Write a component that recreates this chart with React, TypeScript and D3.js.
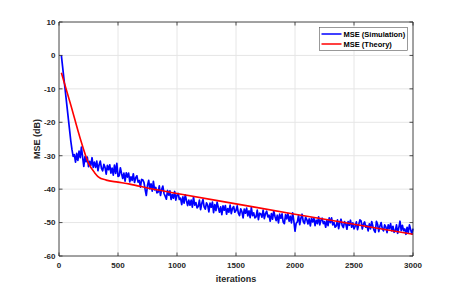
import React from "react";
import * as d3 from "d3";

const W = 456;
const H = 288;
const M = { left: 59, right: 413, top: 22, bottom: 256 };

const xTicks = [0, 500, 1000, 1500, 2000, 2500, 3000];
const yTicks = [-60, -50, -40, -30, -20, -10, 0, 10];

// Simulation MSE, sampled every 10 iterations from iteration 20
const simStart = 20;
const simStep = 10;
const simValues = [
  0, -3.2, -6.4, -9.6, -12.8, -16.0, -19.2, -22.4, -25.6,
  -28.2, -30.2, -29.7, -31.9, -29.3, -31.4, -28.6, -30.6, -27.4, -30.4,
  -33.2, -30.3, -31.8, -30.4, -33.3, -31.7, -32.9, -30.6, -33.5, -31.9,
  -33.5, -31.6, -34.5, -32.7, -31.6, -33.8, -34.5, -32.6, -33.5, -35.5,
  -32.9, -34.2, -32.7, -35.2, -33.7, -35.8, -32.8, -35.3, -32.3, -36.2,
  -36.0, -33.6, -35.3, -36.8, -35.2, -37.6, -35.1, -36.4, -35.2, -37.8,
  -36.3, -37.4, -35.4, -38.0, -36.6, -36.0, -37.9, -37.4, -39.4, -37.1,
  -37.2, -38.0, -40.1, -41.9, -38.9, -37.4, -39.9, -38.4, -40.6, -37.7,
  -40.2, -39.5, -41.1, -40.9, -39.0, -41.9, -40.1, -39.1, -41.3, -42.1,
  -43.0, -40.4, -41.8, -40.5, -43.1, -41.6, -42.7, -40.7, -43.3, -41.8,
  -41.3, -43.1, -42.7, -44.6, -42.3, -44.2, -41.7, -43.4, -44.9, -43.3,
  -44.8, -43.3, -45.4, -42.3, -44.8, -44.0, -45.6, -45.2, -43.3, -46.1,
  -44.3, -43.1, -45.3, -46.0, -44.1, -44.8, -46.8, -44.2, -45.4, -43.9,
  -47.0, -44.6, -46.4, -43.9, -45.5, -46.9, -45.3, -47.6, -45.0, -46.3,
  -44.9, -47.5, -45.8, -46.9, -44.8, -47.3, -45.8, -45.2, -46.9, -46.4,
  -45.0, -47.2, -47.9, -45.9, -46.7, -48.6, -46.0, -47.2, -45.7, -48.0,
  -46.5, -48.5, -45.5, -47.9, -47.1, -48.6, -48.3, -46.3, -49.1, -47.2,
  -47.4, -48.4, -46.3, -48.8, -47.3, -46.6, -48.3, -47.8, -49.6, -47.3,
  -49.0, -46.5, -48.1, -49.4, -47.8, -50.1, -47.5, -48.7, -47.4, -49.9,
  -50.3, -47.6, -48.9, -47.3, -49.6, -48.1, -50.1, -47.1, -49.5, -52.6,
  -50.2, -49.8, -47.8, -50.6, -48.7, -47.5, -49.7, -50.3, -48.4, -49.1,
  -50.4, -48.9, -51.0, -48.7, -49.8, -48.6, -50.9, -49.3, -50.3, -48.3,
  -50.7, -49.3, -48.7, -50.3, -49.7, -51.4, -49.3, -50.9, -48.6, -50.0,
  -48.6, -50.7, -50.0, -51.4, -51.0, -49.2, -51.8, -50.0, -49.0, -50.9,
  -51.5, -49.7, -50.3, -52.0, -49.7, -50.8, -49.3, -51.4, -50.1, -51.9,
  -51.1, -49.8, -52.1, -50.6, -49.2, -49.5, -51.9, -50.5, -49.8, -51.4,
  -50.9, -52.5, -50.4, -51.9, -49.7, -51.1, -52.3, -52.9, -49.6, -50.5,
  -52.7, -51.0, -50.0, -51.9, -52.5, -50.7, -51.3, -53.0, -50.7, -51.8,
  -50.3, -52.5, -51.1, -52.9, -52.5, -50.7, -53.2, -51.5, -49.6, -52.4,
  -50.8, -52.4, -51.9, -53.5, -51.4, -53.0, -50.7, -52.1, -53.4, -51.8,
];

// Theory MSE
const theoryIter = [20, 100, 178, 250, 300, 333, 400, 500, 600, 771, 1000, 1500, 2000, 2500, 3000];
const theoryValues = [-5.2, -14.8, -24.6, -32.2, -35.0, -36.3, -37.3, -37.9, -38.5, -39.8, -41.3, -44.4, -47.5, -50.5, -53.5];

const seriesNames = ["MSE (Simulation)", "MSE (Theory)"];
const seriesColors = ["#0000ff", "#ff0000"];

const FONT = "'Liberation Sans', Arial, Helvetica, sans-serif";

export default function App() {
  const x = d3.scaleLinear().domain([0, 3000]).range([M.left, M.right]);
  const y = d3.scaleLinear().domain([-60, 10]).range([M.bottom, M.top]);

  const simData: [number, number][] = simValues.map((v, i) => [simStart + i * simStep, v]);
  const thData: [number, number][] = theoryValues.map((v, i) => [theoryIter[i], v]);

  const line = d3
    .line<[number, number]>()
    .x((d) => x(d[0]))
    .y((d) => y(d[1]));
  const smooth = d3
    .line<[number, number]>()
    .x((d) => x(d[0]))
    .y((d) => y(d[1]))
    .curve(d3.curveMonotoneX);

  const axisColor = "#262626";
  const gridColor = "#e6e6e6";
  const tickLen = 3.5;

  const lx = 319.5;
  const ly = 27.5;
  const lw = 88;
  const lh = 23;

  return (
    <svg width={W} height={H} style={{ position: "absolute", left: 0, top: 0, background: "#fff" }}>
      <rect x={0} y={0} width={W} height={H} fill="#fff" />
      {xTicks.map((t) => (
        <line key={"gx" + t} x1={x(t)} x2={x(t)} y1={M.top} y2={M.bottom} stroke={gridColor} strokeWidth={1} />
      ))}
      {yTicks.map((t) => (
        <line key={"gy" + t} x1={M.left} x2={M.right} y1={y(t)} y2={y(t)} stroke={gridColor} strokeWidth={1} />
      ))}

      <path d={line(simData) || ""} fill="none" stroke={seriesColors[0]} strokeWidth={1.7} strokeLinejoin="round" />
      <path d={smooth(thData) || ""} fill="none" stroke={seriesColors[1]} strokeWidth={1.6} />

      <line x1={M.left} x2={M.right} y1={M.bottom} y2={M.bottom} stroke={axisColor} strokeWidth={0.8} />
      <line x1={M.left} x2={M.right} y1={M.top} y2={M.top} stroke={axisColor} strokeWidth={0.8} />
      <line x1={M.left} x2={M.left} y1={M.top} y2={M.bottom} stroke={axisColor} strokeWidth={0.8} />
      <line x1={M.right} x2={M.right} y1={M.top} y2={M.bottom} stroke={axisColor} strokeWidth={0.8} />

      {xTicks.map((t) => (
        <g key={"tx" + t}>
          <line x1={x(t)} x2={x(t)} y1={M.bottom} y2={M.bottom - tickLen} stroke={axisColor} strokeWidth={0.8} />
          <line x1={x(t)} x2={x(t)} y1={M.top} y2={M.top + tickLen} stroke={axisColor} strokeWidth={0.8} />
          <text x={x(t)} y={268} textAnchor="middle" fontFamily={FONT} fontSize={8} fontWeight="bold" fill={axisColor}>
            {t}
          </text>
        </g>
      ))}
      {yTicks.map((t) => (
        <g key={"ty" + t}>
          <line x1={M.left} x2={M.left + tickLen} y1={y(t)} y2={y(t)} stroke={axisColor} strokeWidth={0.8} />
          <line x1={M.right} x2={M.right - tickLen} y1={y(t)} y2={y(t)} stroke={axisColor} strokeWidth={0.8} />
          <text x={55.5} y={y(t) + 2.8} textAnchor="end" fontFamily={FONT} fontSize={8} fontWeight="bold" fill={axisColor}>
            {t}
          </text>
        </g>
      ))}

      <text x={(M.left + M.right) / 2} y={281.5} textAnchor="middle" fontFamily={FONT} fontSize={9} fontWeight="bold" fill={axisColor}>
        iterations
      </text>
      <text
        transform={`translate(39.5, ${(M.top + M.bottom) / 2}) rotate(-90)`}
        textAnchor="middle"
        fontFamily={FONT}
        fontSize={9}
        fontWeight="bold"
        fill={axisColor}
      >
        MSE (dB)
      </text>

      <rect x={lx} y={ly} width={lw} height={lh} fill="#fff" stroke="#555" strokeWidth={0.6} />
      {seriesNames.map((n, i) => (
        <g key={n}>
          <line x1={lx + 2} x2={lx + 22} y1={ly + 6.5 + i * 10} y2={ly + 6.5 + i * 10} stroke={seriesColors[i]} strokeWidth={1.5} />
          <text x={lx + 24} y={ly + 9 + i * 10} fontFamily={FONT} fontSize={7.5} fontWeight="bold" fill="#000">
            {n}
          </text>
        </g>
      ))}
    </svg>
  );
}
